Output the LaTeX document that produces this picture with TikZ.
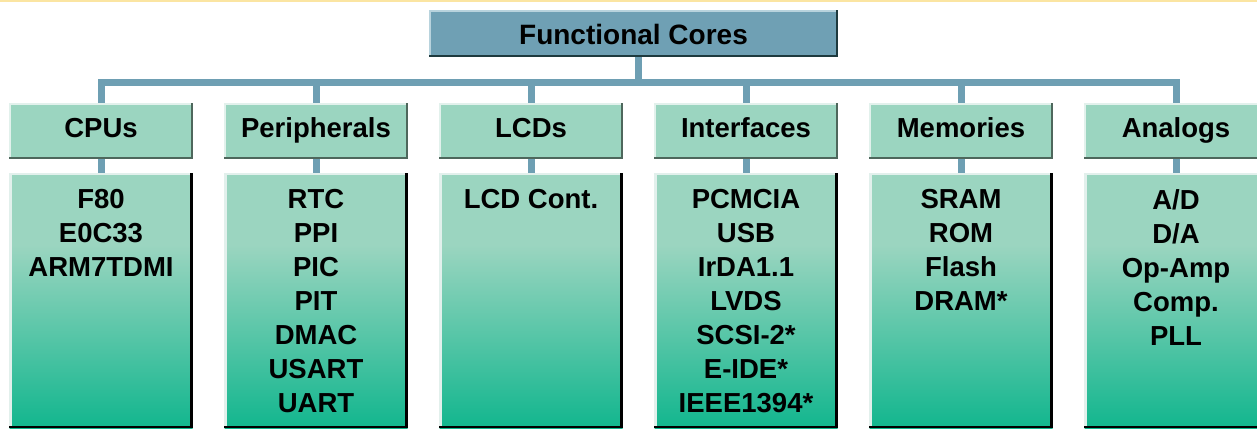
\documentclass[tikz,border=0pt]{standalone}
\usepackage{fontspec}
\setmainfont{Liberation Sans}
\usetikzlibrary{calc}

\definecolor{stripcol}{HTML}{FBE5A2}
\definecolor{titlefill}{HTML}{6FA0B4}
\definecolor{titlelight}{HTML}{B8D3DD}
\definecolor{titledark}{HTML}{1E3A3E}
\definecolor{catfill}{HTML}{9BD5C0}
\definecolor{catlight}{HTML}{E2F1EC}
\definecolor{catdark}{HTML}{4E675C}
\definecolor{coltop}{HTML}{9BD5C0}
\definecolor{colbot}{HTML}{12B68E}
\definecolor{collight}{HTML}{E2F0EC}
\definecolor{busline}{HTML}{6E9FB3}

% the path is fitted to the 25bp--75bp band of the shading
\pgfdeclareverticalshading{colshade}{100bp}{color(0bp)=(colbot); color(25bp)=(colbot); color(61bp)=(coltop); color(100bp)=(coltop)}

% raised edges: light on top/left, dark on bottom/right
\newcommand{\bevelbox}[5]{%
  \fill[#2] (#1.north west) rectangle ($(#1.north east)+(0,#4)$);
  \fill[#2] (#1.north west) rectangle ($(#1.south west)+(#4,0)$);
  \fill[#3] ($(#1.south west)+(0,-#5)$) rectangle (#1.south east);
  \fill[#3] ($(#1.north east)+(-#5,0)$) rectangle (#1.south east);
}

\begin{document}
\begin{tikzpicture}[x=1pt,y=-1pt,
  label font/.style={font=\fontsize{27.5}{34}\selectfont\bfseries},
  titlebox/.style={font=\fontsize{28}{34}\selectfont\bfseries, fill=titlefill,
    minimum width=409pt, minimum height=47pt,
    inner sep=0pt, text height=23pt, text depth=0pt},
  catbox/.style={label font, fill=catfill, minimum width=183pt, minimum height=56pt,
    inner sep=0pt, text height=19.5pt, text depth=7.5pt},
  colbox/.style={shading=colshade, minimum width=183pt, minimum height=255pt, inner sep=0pt},
  listtext/.style={label font, align=center, inner sep=0pt, anchor=north},
  conn/.style={draw=busline, line width=7pt, line join=miter}]

\useasboundingbox (0,0) rectangle (1257,428);
\clip (0,0) rectangle (1257,428);
\fill[stripcol] (0,0) rectangle (1257,2.5);

% head of the tree
\node[titlebox] (fc) at (633.5,33.5) {Functional Cores};

% category headers
\node[catbox] (c1) at (101,131)  {CPUs};
\node[catbox] (c2) at (316,131)  {Peripherals};
\node[catbox] (c3) at (531,131)  {LCDs};
\node[catbox] (c4) at (746,131)  {Interfaces};
\node[catbox] (c5) at (961,131)  {Memories};
\node[catbox] (c6) at (1176,131) {Analogs};

% columns listing the cores
\node[colbox] (l1) at (101,300.5)  {};
\node[colbox] (l2) at (316,300.5)  {};
\node[colbox] (l3) at (531,300.5)  {};
\node[colbox] (l4) at (746,300.5)  {};
\node[colbox] (l5) at (961,300.5)  {};
\node[colbox] (l6) at (1176,300.5) {};

% connectors
\coordinate (bus) at ($(c1.north)!0.5!(c6.north)+(0,-20.5)$);
\draw[conn] (fc.south -| bus) -- (bus);
\draw[conn] (c1.north) -- (c1.north |- bus) -- (c6.north |- bus) -- (c6.north);
\foreach \i in {2,3,4,5} \draw[conn] (c\i.north) -- (c\i.north |- bus);

% box edges
\bevelbox{fc}{titlelight}{titledark}{2.5}{2.5}
\foreach \i in {1,...,6} {\bevelbox{c\i}{catlight}{catdark}{2}{2}}
\foreach \i in {1,...,6} {\bevelbox{l\i}{collight}{black}{2.5}{2.5}}
% stubs from each header down to its column
\foreach \i in {1,...,6} \draw[conn] (c\i.south) -- (l\i.north);

% column contents
\node[listtext] (t1) at (101,189.3)  {F80\\E0C33\\ARM7TDMI};
\node[listtext] (t2) at (316,189.3)  {RTC\\PPI\\PIC\\PIT\\DMAC\\USART\\UART};
\node[listtext] (t3) at (531,189.3)  {LCD Cont.};
\node[listtext] (t4) at (746,189.3)  {PCMCIA\\USB\\IrDA1.1\\LVDS\\SCSI-2*\\E-IDE*\\IEEE1394*};
\node[listtext] (t5) at (961,189.3)  {SRAM\\ROM\\Flash\\DRAM*};
\node[listtext] (t6) at (1176,189.3) {A/D\\D/A\\Op-Amp\\Comp.\\PLL};
\end{tikzpicture}
\end{document}
